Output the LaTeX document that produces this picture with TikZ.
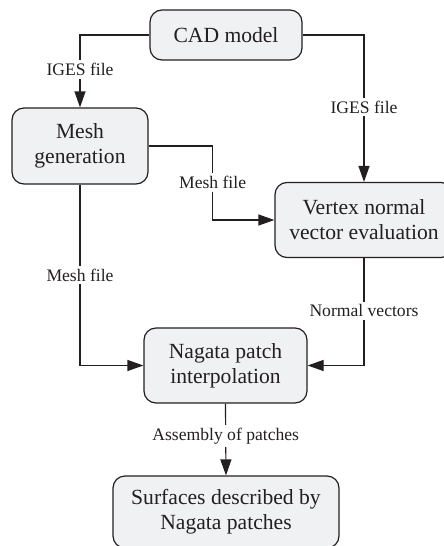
\documentclass[tikz,border=0pt]{standalone}
\usepackage{fontspec}
\setmainfont{Liberation Serif}
\usepackage{tikz}
\usetikzlibrary{arrows.meta, positioning, calc}
\definecolor{boxfill}{HTML}{F0F1F3}
\definecolor{ink}{HTML}{231F20}

\begin{document}
\begin{tikzpicture}[x=0.5pt, y=-0.5pt,
    box/.style={draw=ink, fill=boxfill, rounded corners=6pt, line width=0.6pt,
        align=center, inner sep=2pt, font=\fontsize{10.8}{12.5}\selectfont, text=ink},
    lbl/.style={fill=white, inner sep=1.5pt, font=\fontsize{8.8}{10}\selectfont, text=ink},
    arr/.style={draw=ink, line width=0.6pt, -{Triangle[length=8pt, width=5.5pt]}}]
    \useasboundingbox (0,0) rectangle (444,546);
    % 方框
    \node[box, minimum width=76pt, minimum height=25pt] (cad) at (226,35) {CAD model};
    \node[box, minimum width=68pt, minimum height=38pt] (mesh) at (80,146) {Mesh\\generation};
    \node[box, minimum width=89pt, minimum height=37.5pt] (vertex) at (364,220) {Vertex normal\\vector evaluation};
    \node[box, minimum width=81.5pt, minimum height=37.5pt] (nagata) at (225.5,365.5) {Nagata patch\\interpolation};
    \node[box, minimum width=113pt, minimum height=36pt] (surf) at (226,512) {Surfaces described by\\Nagata patches};
    % 连线
    \draw[arr] (cad.west) -| (mesh.north) node[lbl, pos=0.74] {IGES file};
    \draw[arr] (cad.east) -| (vertex.north) node[lbl, pos=0.745] {IGES file};
    \draw[arr] (mesh.east) -- ++(64,0) |- (vertex.west) node[lbl, pos=0.245] {Mesh file};
    \draw[arr] (mesh.south) |- (nagata.west) node[lbl, pos=0.25] {Mesh file};
    \draw[arr] (vertex.south) |- (nagata.east) node[lbl, pos=0.245] {Normal vectors};
    \draw[arr] (nagata.south) -- (surf.north) node[lbl, pos=0.45] {Assembly of patches};
\end{tikzpicture}
\end{document}
